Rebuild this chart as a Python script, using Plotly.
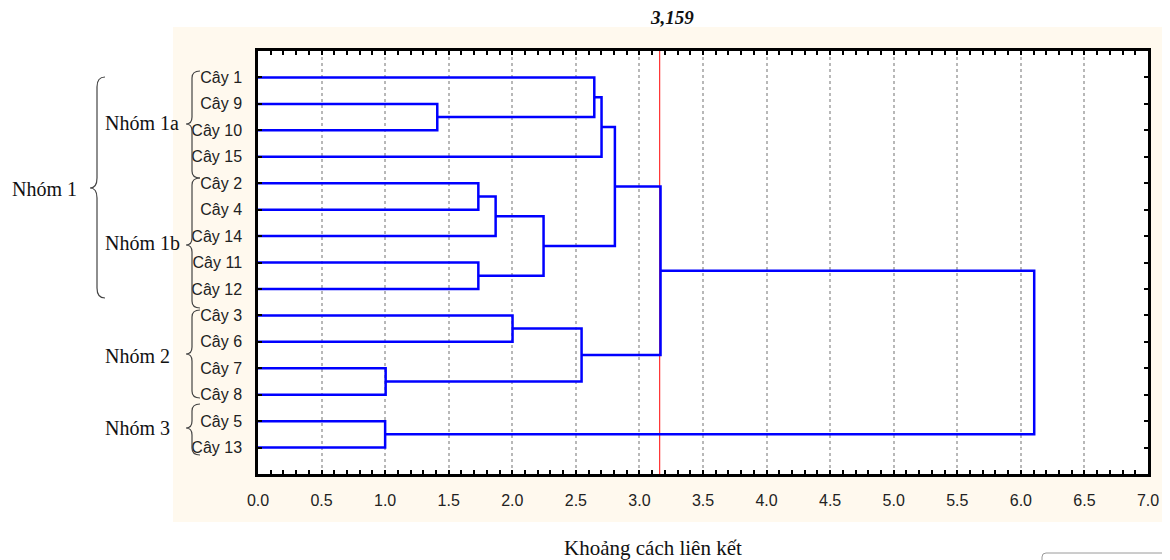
import plotly.graph_objects as go

# ---------------- data ----------------
leaf_labels = ["Cây 1", "Cây 9", "Cây 10", "Cây 15", "Cây 2", "Cây 4", "Cây 14",
               "Cây 11", "Cây 12", "Cây 3", "Cây 6", "Cây 7", "Cây 8", "Cây 5", "Cây 13"]
# linkage: node ids 0..14 are leaves, each merge creates a new node id 15, 16, ...
merge_left = [1, 0, 16, 4, 18, 7, 19, 17, 9, 11, 23, 22, 13, 26]
merge_right = [2, 15, 3, 5, 6, 8, 20, 21, 10, 12, 24, 25, 14, 27]
merge_height = [1.41, 2.645, 2.702, 1.733, 1.869, 1.733, 2.246, 2.807,
                2.002, 1.004, 2.545, 3.166, 1.00, 6.105]
cut_value = 3.159
cut_label = "3,159"
group_labels = ["Nhóm 1", "Nhóm 1a", "Nhóm 1b", "Nhóm 2", "Nhóm 3"]
x_title = "Khoảng cách liên kết"

# ---------------- geometry helpers ----------------
OFF = 8  # default page body margin
W, H = 1170 - OFF, 560 - OFF
ML, MR, MT, MB = 258 - OFF, 22, 51 - OFF, 86
PW, PH = W - ML - MR, H - MT - MB


def px(x):
    return (x - OFF - ML) / PW


def py(y):
    return (H - MB - (y - OFF)) / PH


# ---------------- dendrogram lines ----------------
pos = {i: (0.0, i + 1.0) for i in range(len(leaf_labels))}
xs, ys = [], []
nid = len(leaf_labels)
for a, b, h in zip(merge_left, merge_right, merge_height):
    xa, ya = pos[a]
    xb, yb = pos[b]
    xs += [xa, h, h, xb, None]
    ys += [ya, ya, yb, yb, None]
    pos[nid] = (h, (ya + yb) / 2)
    nid += 1

fig = go.Figure()
fig.add_trace(go.Scatter(x=xs, y=ys, mode="lines",
                         line=dict(color="#0000FF", width=2.5),
                         hoverinfo="skip", showlegend=False))

shapes = []
# cream background area
shapes.append(dict(type="rect", xref="paper", yref="paper", layer="below",
                   x0=px(173), x1=px(1168), y0=py(522), y1=py(27),
                   fillcolor="#FFF9EE", line=dict(width=0)))
# white plot area
shapes.append(dict(type="rect", xref="paper", yref="paper", layer="below",
                   x0=0, x1=1, y0=0, y1=1,
                   fillcolor="white", line=dict(width=0)))
# cut line
shapes.append(dict(type="line", xref="x", yref="paper", layer="below",
                   x0=cut_value, x1=cut_value, y0=0, y1=1,
                   line=dict(color="#FF3030", width=1.2)))


def brace(xr, xs_, xt, y0, ym, y1, r=7):
    p = (f"M {px(xr)},{py(y0)} Q {px(xs_)},{py(y0)} {px(xs_)},{py(y0 + r)} "
         f"L {px(xs_)},{py(ym - r)} Q {px(xs_)},{py(ym)} {px(xt)},{py(ym)} "
         f"Q {px(xs_)},{py(ym)} {px(xs_)},{py(ym + r)} "
         f"L {px(xs_)},{py(y1 - r)} Q {px(xs_)},{py(y1)} {px(xr)},{py(y1)}")
    return dict(type="path", xref="paper", yref="paper", path=p,
                line=dict(color="#444444", width=1.2))


shapes.append(brace(105, 97, 90, 77, 188, 298, r=10))
shapes.append(brace(200, 192, 186, 71, 124, 178))
shapes.append(brace(200, 192, 186, 178, 245, 308))
shapes.append(brace(200, 192, 186, 310, 354, 398))
shapes.append(brace(200, 192, 186, 404, 428, 455))
# partial rounded box at bottom-right
shapes.append(dict(type="path", xref="paper", yref="paper",
                   path=f"M {px(1042)},{py(560)} L {px(1042)},{py(557)} "
                        f"Q {px(1042)},{py(553)} {px(1046)},{py(553)} L {px(1169)},{py(553)}",
                   line=dict(color="#9a9a9a", width=1)))

serif = "Liberation Serif, Times New Roman, serif"
annotations = []
group_pos = [(10, 189), (103, 123), (103, 243), (103, 356), (103, 428)]
for lab, (gx, gy) in zip(group_labels, group_pos):
    annotations.append(dict(text=lab, xref="paper", yref="paper", x=px(gx), y=py(gy),
                            xanchor="left", yanchor="middle", showarrow=False,
                            font=dict(family=serif, size=20, color="#111111")))
annotations.append(dict(text=cut_label, xref="paper", yref="paper", x=px(672), y=py(17),
                        xanchor="center", yanchor="middle", showarrow=False,
                        font=dict(family=serif, size=19, color="#111111",
                                  weight="bold", style="italic")))
annotations.append(dict(text=x_title, xref="paper", yref="paper", x=px(653), y=py(548),
                        xanchor="center", yanchor="middle", showarrow=False,
                        font=dict(family=serif, size=21, color="#111111")))

fig.update_layout(
    width=W, height=H,
    margin=dict(l=ML, r=MR, t=MT, b=MB),
    paper_bgcolor="white", plot_bgcolor="white",
    shapes=shapes, annotations=annotations,
    showlegend=False,
)
fig.update_xaxes(
    range=[0, 7], tick0=0, dtick=0.5, tickformat=".1f",
    showline=True, linecolor="black", linewidth=2.5, mirror="ticks",
    ticks="inside", ticklen=4, tickwidth=1.5, tickcolor="black",
    minor=dict(ticks="inside", dtick=0.1, ticklen=4, tickwidth=1.5, tickcolor="black",
               showgrid=False),
    showgrid=True, gridcolor="#b8b8b8", griddash="dot", gridwidth=1.5,
    zeroline=False, ticklabelstandoff=10,
    tickfont=dict(family="Liberation Sans, Arial, sans-serif", size=16, color="#222222"),
)
fig.update_yaxes(
    range=[16, 0], tickvals=list(range(1, len(leaf_labels) + 1)), ticktext=leaf_labels,
    showline=True, linecolor="black", linewidth=2.5, mirror="ticks",
    ticks="inside", ticklen=4, tickwidth=2, tickcolor="black",
    showgrid=False, zeroline=False, ticklabelstandoff=10,
    tickfont=dict(family="Liberation Sans, Arial, sans-serif", size=16, color="#222222"),
)

fig.write_html("out.html")
